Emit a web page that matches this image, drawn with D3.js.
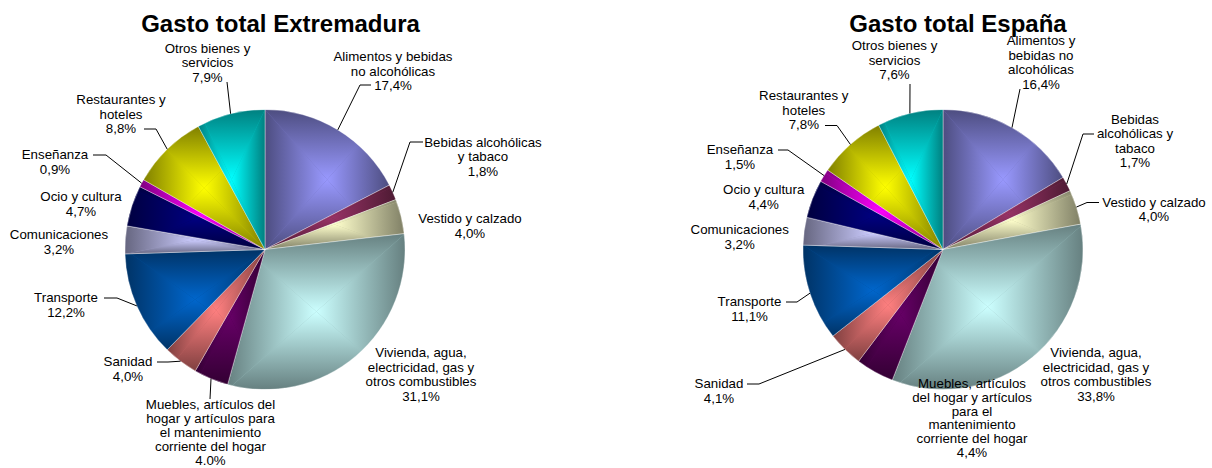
<!DOCTYPE html>
<html>
<head>
<meta charset="utf-8">
<script src="https://cdn.jsdelivr.net/npm/d3@7"></script>
<style>
    body { margin: 0; background: #fff; }
    text { font-family: "Liberation Sans", Arial, sans-serif; fill: #000; }
</style>
</head>
<body>
<svg id="chart" width="1212" height="468"></svg>
<script>
// categories, in the order the slices run clockwise from 12 o'clock
const categories = [
    "Alimentos y bebidas no alcohólicas", "Bebidas alcohólicas y tabaco", "Vestido y calzado",
    "Vivienda, agua, electricidad, gas y otros combustibles",
    "Muebles, artículos del hogar y artículos para el mantenimiento corriente del hogar",
    "Sanidad", "Transporte", "Comunicaciones", "Ocio y cultura", "Enseñanza",
    "Restaurantes y hoteles", "Otros bienes y servicios"
];
const extremaduraValues = [17.4, 1.8, 4.0, 31.1, 4.0, 4.0, 12.2, 3.2, 4.7, 0.9, 8.8, 7.9];
const espanaValues = [16.4, 1.7, 4.0, 33.8, 4.4, 4.1, 11.1, 3.2, 4.4, 1.5, 7.8, 7.6];

// category names wrapped the way each chart prints them
const extremaduraLines = [
    ["Alimentos y bebidas", "no alcohólicas"],
    ["Bebidas alcohólicas", "y tabaco"],
    ["Vestido y calzado"],
    ["Vivienda, agua,", "electricidad, gas y", "otros combustibles"],
    ["Muebles, artículos del", "hogar y artículos para", "el mantenimiento", "corriente del hogar"],
    ["Sanidad"], ["Transporte"], ["Comunicaciones"], ["Ocio y cultura"], ["Enseñanza"],
    ["Restaurantes y", "hoteles"],
    ["Otros bienes y", "servicios"]
];
const espanaLines = [
    ["Alimentos y", "bebidas no", "alcohólicas"],
    ["Bebidas", "alcohólicas y", "tabaco"],
    ["Vestido y calzado"],
    ["Vivienda, agua,", "electricidad, gas y", "otros combustibles"],
    ["Muebles, artículos", "del hogar y artículos", "para el", "mantenimiento", "corriente del hogar"],
    ["Sanidad"], ["Transporte"], ["Comunicaciones"], ["Ocio y cultura"], ["Enseñanza"],
    ["Restaurantes y", "hoteles"],
    ["Otros bienes y", "servicios"]
];

const fmtPct = v => d3.format(".1f")(v).replace(".", ",") + "%";
const extremaduraPct = extremaduraValues.map(fmtPct);
extremaduraPct[4] = "4.0%"; // the original prints a dot on this one
const espanaPct = espanaValues.map(fmtPct);

const colors = ["#9999FF", "#993366", "#FFFFCC", "#CCFFFF", "#660066", "#FF8080",
                "#0066CC", "#CCCCFF", "#000080", "#FF00FF", "#FFFF00", "#00FFFF"];

const lineHeight = 14.5;

// label placement: x = text centre, y = first baseline, leader = points from the label towards the pie
const charts = [
    {
        id: "ext", title: "Gasto total Extremadura", titleX: 280.5,
        cx: 265, cy: 249.5, r: 140,
        values: extremaduraValues, lines: extremaduraLines, pct: extremaduraPct,
        labels: [
            {x: 393, y: 61, leader: [[371, 85], [360, 85]]},
            {x: 483, y: 146.5, leader: [[423, 142], [410, 142]]},
            {x: 470, y: 223},
            {x: 421, y: 357},
            {x: 210.5, y: 409, lh: 14, leader: [[210, 399]]},
            {x: 128, y: 366, leader: [[157, 362], [168, 362]]},
            {x: 66, y: 302, leader: [[104, 298], [117, 298]]},
            {x: 59, y: 239},
            {x: 81, y: 201},
            {x: 55, y: 159, leader: [[93, 155], [106, 155]]},
            {x: 121, y: 104, leader: [[144, 129], [156, 129]]},
            {x: 207.5, y: 52.5, leader: [[227, 82]]}
        ]
    },
    {
        id: "esp", title: "Gasto total España", titleX: 958,
        cx: 943, cy: 249.5, r: 140,
        values: espanaValues, lines: espanaLines, pct: espanaPct,
        labels: [
            {x: 1041, y: 45, leader: [[1020, 89]]},
            {x: 1135, y: 123.5, leader: [[1094, 134], [1083, 134]]},
            {x: 1154, y: 206.5, leader: [[1099, 202.5], [1087, 202.5]]},
            {x: 1096, y: 357},
            {x: 972, y: 388, lh: 13.8},
            {x: 719, y: 388.3, leader: [[747, 384], [759, 384]]},
            {x: 749.5, y: 306, leader: [[786, 302], [797, 302]]},
            {x: 739.7, y: 234.3},
            {x: 763.7, y: 194.3},
            {x: 740, y: 154.3, leader: [[778, 150], [788, 150]]},
            {x: 803.8, y: 100, leader: [[825, 125.5], [837, 125.5]]},
            {x: 894.5, y: 50, leader: [[910, 84]]}
        ]
    }
];

const svg = d3.select("#chart");
const defs = svg.append("defs");

// rectangular "from centre" shading: four linear ramps, dark at the box edge, full colour in the middle
const ramps = {t: [0, 0, 0, 1], b: [0, 1, 0, 0], l: [0, 0, 1, 0], r: [1, 0, 0, 0]};
colors.forEach((c, i) => {
    const base = d3.rgb(c);
    const dark = d3.rgb(base.r * 0.5, base.g * 0.5, base.b * 0.5);
    Object.entries(ramps).forEach(([k, v]) => {
        const grad = defs.append("linearGradient")
            .attr("id", `shade${i}${k}`)
            .attr("x1", v[0]).attr("y1", v[1]).attr("x2", v[2]).attr("y2", v[3]);
        grad.append("stop").attr("offset", 0).attr("stop-color", dark.formatHex());
        grad.append("stop").attr("offset", 1).attr("stop-color", base.formatHex());
    });
});

function drawPie(cfg) {
    const g = svg.append("g").attr("transform", `translate(${cfg.cx},${cfg.cy})`);
    const pie = d3.pie().sort(null).value(d => d);
    const arc = d3.arc().innerRadius(0).outerRadius(cfg.r);
    const slices = pie(cfg.values);

    slices.forEach((d, i) => {
        const clipId = `${cfg.id}-clip${i}`;
        defs.append("clipPath").attr("id", clipId)
            .append("path").attr("d", arc(d));

        const sg = g.append("g").attr("clip-path", `url(#${clipId})`);
        const base = d3.rgb(colors[i]);
        const basePath = sg.append("path")
            .attr("d", arc(d))
            .attr("fill", d3.rgb(base.r * 0.75, base.g * 0.75, base.b * 0.75).formatHex());

        const bb = basePath.node().getBBox();
        const x0 = bb.x, y0 = bb.y, x1 = bb.x + bb.width, y1 = bb.y + bb.height;
        const mx = (x0 + x1) / 2, my = (y0 + y1) / 2;
        const tris = {
            t: [[x0, y0], [x1, y0], [mx, my]],
            b: [[x0, y1], [x1, y1], [mx, my]],
            l: [[x0, y0], [x0, y1], [mx, my]],
            r: [[x1, y0], [x1, y1], [mx, my]]
        };
        Object.entries(tris).forEach(([k, pts]) => {
            sg.append("polygon")
                .attr("points", pts.map(p => p.join(",")).join(" "))
                .attr("fill", `url(#shade${i}${k})`);
        });

        g.append("path")
            .attr("d", arc(d))
            .attr("fill", "none")
            .attr("stroke", "#ffffff")
            .attr("stroke-opacity", 0.55)
            .attr("stroke-width", 0.7);
    });

    // leader lines end on the rim at each slice's middle angle
    slices.forEach((d, i) => {
        const lab = cfg.labels[i];
        if (!lab.leader) return;
        const a = (d.startAngle + d.endAngle) / 2;
        const end = [cfg.cx + cfg.r * Math.sin(a), cfg.cy - cfg.r * Math.cos(a)];
        svg.append("path")
            .attr("d", d3.line()(lab.leader.concat([end])))
            .attr("fill", "none")
            .attr("stroke", "#000")
            .attr("stroke-width", 1);
    });

    slices.forEach((d, i) => {
        const lab = cfg.labels[i];
        const text = svg.append("text")
            .attr("x", lab.x)
            .attr("y", lab.y)
            .attr("text-anchor", "middle")
            .style("font-size", "13.3px");
        cfg.lines[i].concat([cfg.pct[i]]).forEach((t, j) => {
            text.append("tspan")
                .attr("x", lab.x)
                .attr("dy", j === 0 ? 0 : (lab.lh || lineHeight))
                .text(t);
        });
    });

    svg.append("text")
        .attr("x", cfg.titleX)
        .attr("y", 32)
        .attr("text-anchor", "middle")
        .style("font-size", "24px")
        .style("font-weight", "bold")
        .text(cfg.title);
}

charts.forEach(drawPie);
</script>
</body>
</html>
